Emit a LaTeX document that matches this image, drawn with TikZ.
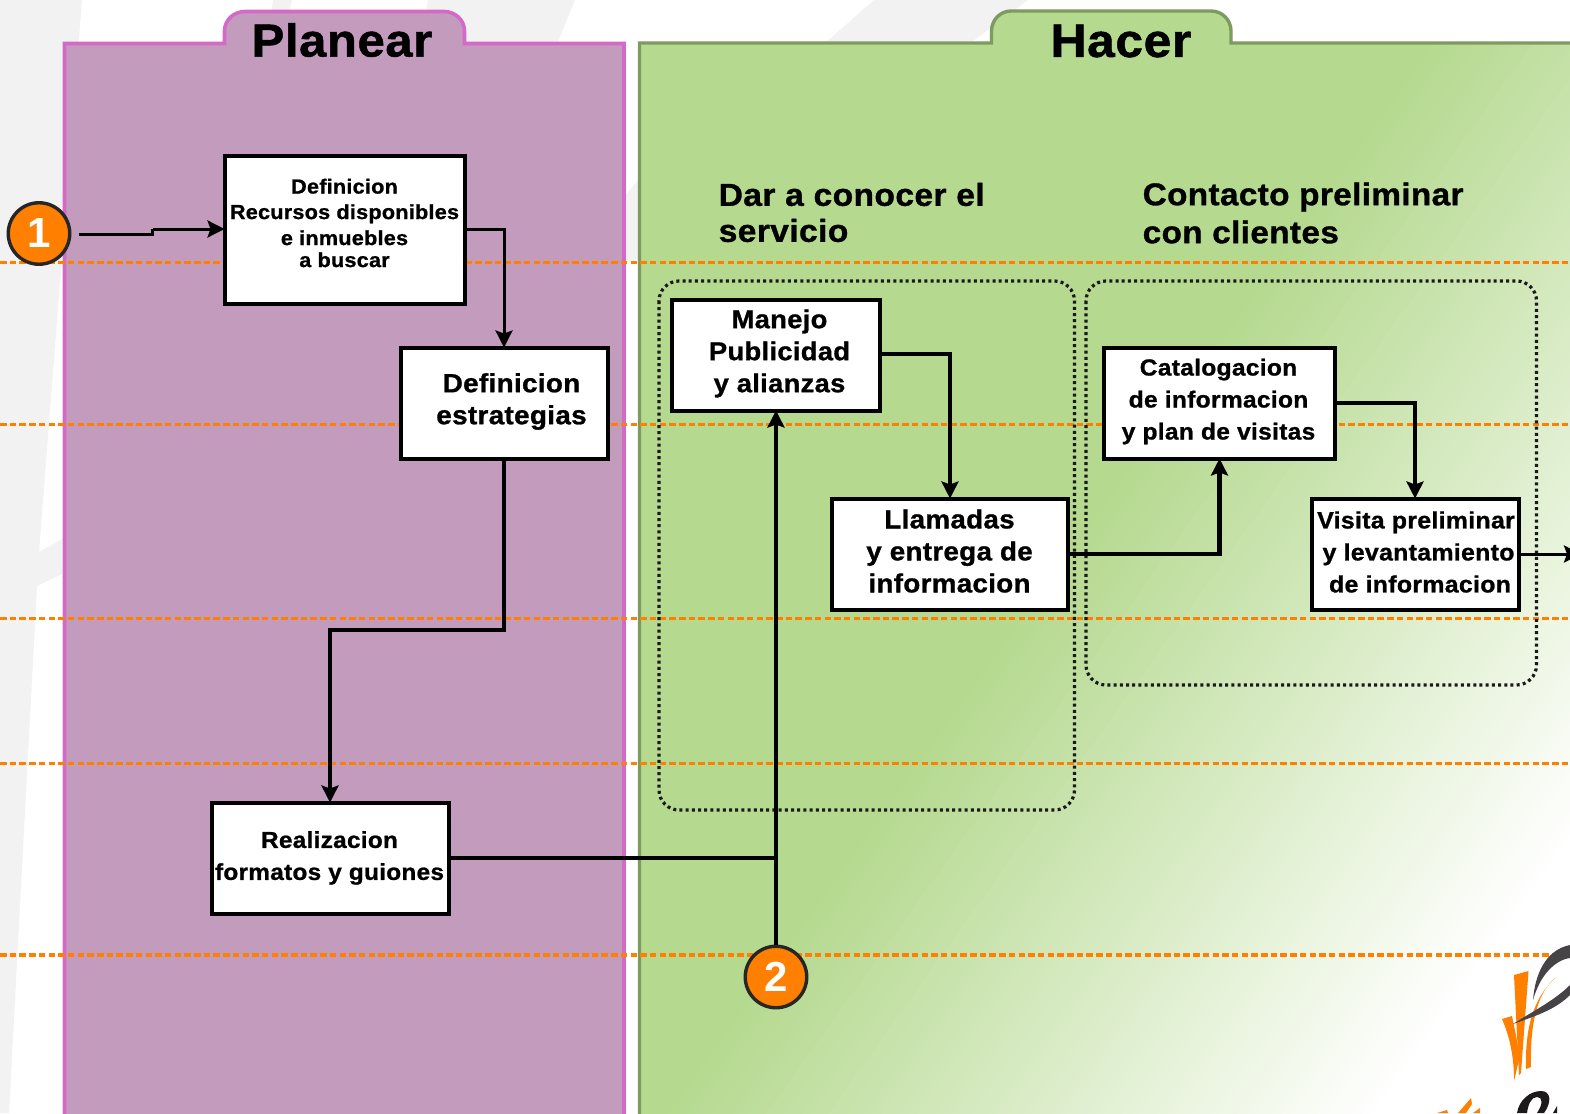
\documentclass[tikz,border=0pt]{standalone}
\usepackage{fontspec}
\usetikzlibrary{arrows.meta,calc}
\setmainfont{Liberation Sans}[BoldFont={Liberation Sans Bold},BoldFeatures={FakeBold=1,FakeStretch=1.06,LetterSpace=1.2}]
\newfontfamily\digitfont{Liberation Sans Bold}
\definecolor{wm}{HTML}{F2F2F2}
\definecolor{plFill}{HTML}{C39BBD}
\definecolor{plLine}{HTML}{D46AC8}
\definecolor{haFill}{HTML}{B5D98F}
\definecolor{haLine}{HTML}{7D9B5F}
\definecolor{orangeL}{HTML}{FF8000}
\definecolor{logoDark}{HTML}{454345}
\definecolor{logoBlack}{HTML}{1C1A1A}
\newcommand{\fs}[1]{\fontsize{#1}{#1}\selectfont\bfseries}
\tikzset{
  x=1pt,y=-1pt,
  boxnode/.style={draw=black,fill=white,line width=4pt,minimum width=#1,inner sep=0pt,outer sep=0pt},
  lbl/.style={inner sep=0pt,align=center,text=black},
  heading/.style={inner sep=0pt,align=left,anchor=west,text=black},
  circ/.style={circle,draw=black!85,fill=orangeL,line width=3.4pt,minimum size=61.5pt,inner sep=0pt,text=white,font=\digitfont\fontsize{42}{42}\selectfont},
  swim/.style={line width=3.6pt,line join=miter},
  dashline/.style={draw=orangeL,line width=3.1pt,dash pattern=on 6.5pt off 3.2pt},
  grp/.style={draw=black!90,line width=3.2pt,dash pattern=on 3pt off 3.2pt,rounded corners=20pt},
  conn/.style={draw=black,line width=#1,-{Stealth[length=17pt,width=17pt,inset=3pt]},line join=miter},
  plain/.style={draw=black,line width=#1,line join=miter}
}
\begin{document}
\begin{tikzpicture}
\useasboundingbox (0,0) rectangle (1570,1113);
\fill[white] (0,0) rectangle (1570,1113);
% watermark
\fill[wm] (0,0) -- (82,0) -- (39,552) -- (62,539) -- (62,574) -- (37,586) -- (9,1113) -- (0,1113) -- cycle;
\fill[wm] (273,0) -- (292,0) -- (283,44) -- (267,44) -- cycle;
\fill[wm] (428,0) -- (575,0) -- (557,44) -- (423,44) -- cycle;
\fill[wm] (874,0) -- (1028,0) -- (969,44) -- (824,44) -- cycle;
\fill[wm] (622,200) -- (642,175) -- (642,259) -- (622,262) -- cycle;
% Planear panel
\path[swim,draw=plLine,fill=plFill] (64.5,1120) -- (64.5,43.5) -- (224.5,43.5) -- (224.5,31) to[out=90,in=180] (245,11.5) -- (444,11.5) to[out=0,in=90] (464.5,31) -- (464.5,43.5) -- (624,43.5) -- (624,1120);
% Hacer panel: gradient
\begin{scope}
\clip (639.5,1120) -- (639.5,43) -- (991.5,43) -- (991.5,31) to[out=90,in=180] (1011,11) -- (1211,11) to[out=0,in=90] (1231,31) -- (1231,43) -- (1580,43) -- (1580,1120) -- cycle;
\fill[haFill] (630,0) rectangle (1580,1120);
\foreach \i in {1,...,80}{
  \pgfmathsetmacro{\sv}{1180+\i*7.2}
  \pgfmathsetmacro{\pc}{100-\i*100/80}
  \pgfmathsetmacro{\ax}{(\sv-0.58*1300)/0.81}
  \pgfmathsetmacro{\bx}{(\sv+0.58*100)/0.81}
  \colorlet{stripe}{haFill!\pc!white}
  \fill[stripe] (\ax,1300) -- (\bx,-100) -- (\bx+1000,-100) -- (\ax+1000,1300) -- cycle;
}
\end{scope}
\draw[draw=haLine,line width=3.4pt] (639.5,1120) -- (639.5,43) -- (991.5,43) -- (991.5,31) to[out=90,in=180] (1011,11) -- (1211,11) to[out=0,in=90] (1231,31) -- (1231,43) -- (1580,43);
% orange dashed lines
\coordinate (d1a) at (0,262.5); \coordinate (d1b) at (1575,262.5);
\coordinate (d2a) at (0,424.5); \coordinate (d2b) at (1575,424.5);
\coordinate (d3a) at (0,618.5); \coordinate (d3b) at (1575,618.5);
\coordinate (d4a) at (0,763.5); \coordinate (d4b) at (1575,763.5);
\coordinate (d5a) at (0,955); \coordinate (d5b) at (1575,955);
\draw[dashline] (d1a) -- (d1b);
\draw[dashline] (d2a) -- (d2b);
\draw[dashline] (d3a) -- (d3b);
\draw[dashline] (d4a) -- (d4b);
\draw[dashline] (d5a) -- (d5b);
% group frames
\draw[grp] (659,281) rectangle (1074.5,810);
\draw[grp] (1086,281) rectangle (1536.5,685);
% logo
\fill[orangeL] (1514,975) -- (1528.5,971) -- (1521,1073) -- (1519,1075) -- cycle;
\fill[orangeL] (1502,1019) -- (1512,1016) .. controls (1517,1040) and (1519,1050) .. (1519,1060) -- (1514,1081) .. controls (1514,1060) and (1511,1040) .. (1502,1019) -- cycle;
\fill[orangeL] (1555,978) .. controls (1535,995) and (1530,1030) .. (1531,1067) -- (1526,1069) .. controls (1525,1030) and (1532,1000) .. (1555,978) -- cycle;
\fill[logoDark] (1570,945) .. controls (1545,950) and (1535,975) .. (1533,1000) .. controls (1540,975) and (1555,960) .. (1570,958) -- cycle;
\fill[logoDark] (1570,985) .. controls (1555,1000) and (1535,1010) .. (1513,1024) .. controls (1535,1016) and (1555,1010) .. (1570,995) -- cycle;
\fill[orangeL] (1437,1113) -- (1447,1110) -- (1448,1113) -- cycle;
\fill[orangeL] (1458,1113) -- (1471,1098) -- (1472,1104) -- (1466,1113) -- cycle;
\fill[orangeL] (1473,1113) -- (1480,1108) -- (1480,1113) -- cycle;
\fill[logoBlack] (1517,1113) .. controls (1519,1100) and (1530,1091) .. (1541,1091) .. controls (1551,1091) and (1552,1102) .. (1544,1113) -- (1537,1113) .. controls (1543,1104) and (1543,1097) .. (1537,1097) .. controls (1531,1097) and (1528,1105) .. (1527,1113) -- cycle;
\fill[logoBlack] (1553,1113) -- (1557,1106) -- (1557,1113) -- cycle;
% boxes
\node[boxnode=240pt,minimum height=148pt] (rec) at (344.5,229.5) {};
\node[lbl,font=\fs{20.4}] (rect) at (344.5,223) {Definicion\\[5.1pt]Recursos disponibles\\[5.6pt]e inmuebles\\[1.6pt]a buscar};
\node[boxnode=207pt,minimum height=111pt] (est) at (504,403) {};
\node[lbl,font=\fs{26.3}] (estt) at (511.5,401.5) {Definicion\\[5.7pt]estrategias};
\node[boxnode=237pt,minimum height=111pt] (rea) at (330,858) {};
\node[lbl,font=\fs{23}] (reat) at (329.5,858) {Realizacion\\[9pt]formatos y guiones};
\node[boxnode=208pt,minimum height=111pt] (man) at (776,355) {};
\node[lbl,font=\fs{25.8}] (mant) at (779.5,353.5) {Manejo\\[6.2pt]Publicidad\\[6.2pt]y alianzas};
\node[boxnode=236pt,minimum height=111pt] (lla) at (950,554) {};
\node[lbl,font=\fs{26.2}] (llat) at (949.5,551) {Llamadas\\[5.8pt]y entrega de\\[5.8pt]informacion};
\node[boxnode=231pt,minimum height=111pt] (cat) at (1219.5,403) {};
\node[lbl,font=\fs{23.2}] (catt) at (1218.5,401.5) {Catalogacion\\[8.8pt]de informacion\\[8.8pt]y plan de visitas};
\node[boxnode=207pt,minimum height=111pt] (vis) at (1415,554) {};
\node[lbl,font=\fs{23.5}] (vist) at (1416,552) {Visita preliminar\\[8.5pt]\hspace*{5pt}y levantamiento\\[8.5pt]\hspace*{8pt}de informacion};
% headings
\node[heading,font=\fs{31.7}] (h1) at (718.5,212.5) {Dar a conocer el\\[4.3pt]servicio};
\node[heading,font=\fs{31.4}] (h2) at (1142.5,213) {Contacto preliminar\\[6.6pt]con clientes};
\node[inner sep=0pt,text=black,font=\fs{46.3}] (pl) at (342,40) {Planear};
\node[inner sep=0pt,text=black,font=\fs{47}] (ha) at (1121,41) {Hacer};
% circles
\node[circ] (c1) at (39,233.5) {1};
\node[circ] (c2) at (776,977) {2};
% connectors
\coordinate (s1) at (79,234.5);
\coordinate (k1) at (152.5,234.5);
\coordinate (k2) at (152.5,229);
\coordinate (k3) at (504,630);
\coordinate (out) at (1581,554);
\draw[plain=3.4pt] (s1) -- (k1) -- (k2);
\draw[conn=3pt] (k2) -- (rec.west |- k2);
\draw[conn=3pt] (rec.east |- k2) -- (est.north |- k2) -- (est.north);
\draw[conn=4.2pt] (est.south) -- (est.south |- k3) -- (rea.north |- k3) -- (rea.north);
\draw[conn=4.2pt] (rea.east) -- (man.south |- rea.east) -- (man.south);
\draw[plain=3.2pt] (c2.north) -- (man.south |- rea.east);
\draw[conn=4.2pt] (man.east |- 0,354) -- (lla.north |- 0,354) -- (lla.north);
\draw[conn=4.2pt] (lla.east) -- (cat.south |- lla.east) -- (cat.south);
\draw[conn=4.2pt] (cat.east) -- (vis.north |- cat.east) -- (vis.north);
\draw[conn=3pt] (vis.east) -- (out);
\end{tikzpicture}
\end{document}
